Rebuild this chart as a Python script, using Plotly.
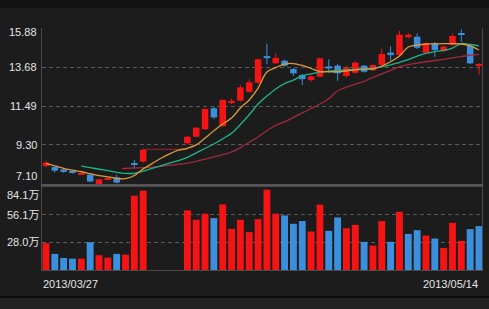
import plotly.graph_objects as go

# ---------------- data ----------------
slots = list(range(50))
opens = [8.12, 8.05, 7.92, 7.78, 7.66, 7.62, 7.10, 7.35, 7.46, 7.95, 8.22, 8.36,
         None, None, None, None,
         9.39, 9.76, 10.18, 11.36, 10.36, 11.68, 11.79, 12.29, 12.80, 14.30, 13.90, 14.04,
         13.57, 13.23, 12.95, 13.14, 13.72, 13.76, 13.18, 13.36, 13.76, 13.50, 13.80, 14.50,
         14.36, 15.36, 15.39, 14.49, 15.02, 14.58, 14.92, 15.58, 14.87, 13.75]
closes = [8.30, 7.85, 7.78, 7.75, 7.70, 7.24, 7.36, 7.42, 7.18, 8.00, 8.20, 9.02,
          None, None, None, None,
          9.76, 10.27, 11.32, 10.85, 11.83, 11.78, 12.54, 12.82, 14.12, 14.18, 14.20, 13.76,
          13.33, 13.00, 13.15, 14.17, 13.60, 13.33, 13.67, 13.93, 13.42, 13.80, 14.42, 14.35,
          15.50, 15.50, 14.77, 15.02, 14.64, 14.83, 15.43, 15.50, 13.89, 13.80]
highs = [8.42, 8.10, 7.98, 7.85, 7.74, 7.66, 7.40, 7.46, 7.62, 8.04, 8.45, 9.10,
         None, None, None, None,
         9.80, 10.30, 11.36, 11.45, 11.86, 11.90, 12.67, 12.99, 14.16, 15.00, 14.46, 14.10,
         13.62, 13.30, 13.20, 14.22, 14.12, 13.85, 13.75, 14.00, 13.80, 13.85, 14.72, 14.85,
         15.73, 15.60, 15.58, 15.08, 15.10, 14.88, 15.58, 15.80, 14.95, 13.90]
lows = [8.05, 7.74, 7.72, 7.68, 7.62, 7.20, 7.08, 7.32, 7.15, 7.93, 7.98, 8.30,
        None, None, None, None,
        9.35, 9.72, 10.14, 10.75, 10.32, 11.60, 11.75, 12.25, 12.76, 13.85, 13.85, 13.70,
        13.18, 12.67, 12.86, 13.10, 13.35, 12.90, 13.10, 13.30, 13.38, 13.45, 13.76, 14.05,
        14.30, 15.30, 14.70, 14.45, 14.26, 14.52, 14.88, 15.10, 13.85, 13.25]
suspended_price = [None] * 11 + [9.05, 9.05, 9.05, 9.05, 9.05, 9.05] + [None] * 33

ma5 = [8.26, 8.12, 7.98, 7.88, 7.79, 7.68, 7.57, 7.50, 7.42, 7.40, 7.58, 7.95,
       8.25, 8.55, 8.80, 9.00, 9.11, 9.30, 9.69, 10.10, 10.48, 10.81, 11.38, 11.83,
       12.50, 13.40, 13.65, 13.85, 13.88, 13.77, 13.60, 13.43, 13.42, 13.42, 13.46,
       13.52, 13.57, 13.57, 13.74, 13.98, 14.30, 14.81, 14.92, 14.98, 14.98, 15.00,
       15.00, 14.98, 14.87, 14.64]
ma10 = [None] * 4 + [8.11, 8.02, 7.93, 7.85, 7.76, 7.70, 7.70, 7.82, 7.98, 8.12, 8.28,
       8.42, 8.60, 8.85, 9.10, 9.35, 9.65, 9.95, 10.45, 11.00, 11.60, 12.05, 12.45,
       12.75, 12.95, 13.20, 13.30, 13.40, 13.45, 13.50, 13.52, 13.55, 13.58, 13.62,
       13.70, 13.80, 13.95, 14.10, 14.30, 14.45, 14.55, 14.62, 14.75, 15.00, 14.95, 14.88]
ma20 = [None] * 9 + [7.98, 8.00, 8.02, 8.05, 8.10, 8.15, 8.20, 8.28, 8.38, 8.50, 8.62,
       8.75, 8.90, 9.15, 9.45, 9.75, 10.10, 10.40, 10.60, 10.85, 11.10, 11.35, 11.60,
       11.90, 12.35, 12.55, 12.72, 12.88, 13.10, 13.30, 13.50, 13.70, 13.82, 13.90,
       13.98, 14.05, 14.12, 14.20, 14.27, 14.35, 14.40]

volume = [27.2, 16.3, 12.2, 11.5, 11.5, 28.2, 15.0, 12.5, 16.3, 15.6, 75.3, 80.4,
          None, None, None, None,
          60.4, 50.9, 57.0, 52.6, 66.5, 41.7, 50.9, 38.4, 51.6, 81.4, 57.0, 55.3,
          46.8, 49.6, 39.0, 66.2, 39.7, 53.3, 42.4, 45.8, 28.5, 24.7, 49.6, 28.5,
          59.0, 36.6, 40.4, 34.9, 31.9, 22.4, 47.8, 29.5, 41.4, 44.5]
vol_dir = ["u", "d", "d", "d", "u", "d", "u", "u", "d", "u", "u", "u",
           "", "", "", "",
           "u", "u", "u", "d", "u", "u", "u", "u", "u", "u", "u", "d",
           "d", "d", "u", "u", "d", "d", "u", "u", "d", "u", "u", "d",
           "u", "d", "d", "u", "d", "u", "u", "u", "d", "d"]

price_ticks = [15.88, 13.68, 11.49, 9.30, 7.10]
price_tick_text = ["15.88", "13.68", "11.49", "9.30", "7.10"]
vol_ticks = [84.1, 56.1, 28.0]
vol_tick_text = ["84.1万", "56.1万", "28.0万"]
date_labels = ["2013/03/27", "2013/05/14"]

# ---------------- style ----------------
RED = "#f41414"
BLUE = "#3c8fdc"
BG = "#1c1c1c"
GRID = "#5a5a5a"
FRAME = "#4a4a4a"
TXT = "#e4e4e4"
FONT = "Liberation Sans, Arial, Noto Sans CJK SC, sans-serif"

fig = go.Figure()

# wicks
for direction, col in (("u", RED), ("d", BLUE)):
    wx, wy = [], []
    bx, bh, bb = [], [], []
    for i in slots:
        if opens[i] is None:
            continue
        d = "u" if closes[i] >= opens[i] else "d"
        if d != direction:
            continue
        wx += [i, i, None]
        wy += [lows[i], highs[i], None]
        bx.append(i)
        bb.append(min(opens[i], closes[i]))
        bh.append(max(abs(closes[i] - opens[i]), 0.05))
    fig.add_trace(go.Scatter(x=wx, y=wy, mode="lines", line=dict(color=col, width=1),
                             xaxis="x", yaxis="y", hoverinfo="skip", showlegend=False))
    fig.add_trace(go.Bar(x=bx, y=bh, base=bb, width=0.74, marker=dict(color=col, line=dict(width=0)),
                         xaxis="x", yaxis="y", showlegend=False))

# suspension line
fig.add_trace(go.Scatter(x=slots, y=suspended_price, mode="lines", line=dict(color="#a3222e", width=1),
                         xaxis="x", yaxis="y", showlegend=False))
# MAs
fig.add_trace(go.Scatter(x=slots, y=ma20, mode="lines", line=dict(color="#a2283e", width=1.3, shape="spline"),
                         xaxis="x", yaxis="y", showlegend=False))
fig.add_trace(go.Scatter(x=slots, y=ma10, mode="lines", line=dict(color="#1db58c", width=1.3, shape="spline"),
                         xaxis="x", yaxis="y", showlegend=False))
fig.add_trace(go.Scatter(x=slots, y=ma5, mode="lines", line=dict(color="#dc9a3c", width=1.3, shape="spline"),
                         xaxis="x", yaxis="y", showlegend=False))

# volume
vcols = [RED if d == "u" else BLUE for d in vol_dir]
fig.add_trace(go.Bar(x=slots, y=volume, width=0.78, marker=dict(color=vcols, line=dict(width=0)),
                     xaxis="x2", yaxis="y2", showlegend=False))

W, H = 489, 309
xdom = [42 / W, 482 / W]
fig.update_layout(
    width=W, height=H, margin=dict(l=0, r=0, t=0, b=0),
    paper_bgcolor=BG, plot_bgcolor=BG, barmode="overlay", showlegend=False,
    xaxis=dict(domain=xdom, range=[-0.45, 49.34], showgrid=False, zeroline=False,
               showticklabels=False, ticks="", showline=True, linecolor="#555555", linewidth=2),
    yaxis=dict(domain=[(H - 184) / H, (H - 28) / H], range=[7.10, 15.88], tickvals=price_ticks,
               showticklabels=False, ticks="", showgrid=True, gridcolor=GRID, griddash="4px,3px",
               gridwidth=1, zeroline=False, showline=True, mirror=True, linecolor=FRAME, linewidth=1),
    xaxis2=dict(domain=xdom, range=[-0.45, 49.34], anchor="y2", showgrid=False, zeroline=False,
                showticklabels=False, ticks="", showline=True, mirror=True, linecolor=FRAME, linewidth=1),
    yaxis2=dict(domain=[(H - 270) / H, (H - 187) / H], range=[0, 84.1], anchor="x2", tickvals=vol_ticks[1:],
                showticklabels=False, ticks="", showgrid=True, gridcolor=GRID, griddash="4px,3px",
                zeroline=False, showline=True, mirror=True, linecolor=FRAME, linewidth=1),
)

# background bands
fig.add_shape(type="rect", xref="paper", yref="paper", x0=0, x1=1, y0=1 - 8 / H, y1=1,
              fillcolor="#121212", line=dict(width=0), layer="below")
fig.add_shape(type="rect", xref="paper", yref="paper", x0=0, x1=1, y0=0, y1=12 / H,
              fillcolor="#222222", line=dict(width=0), layer="below")
fig.add_shape(type="line", xref="paper", yref="paper", x0=0, x1=1, y0=12 / H, y1=12 / H,
              line=dict(color="#0e0e0e", width=2))

# axis labels
pshift = {0: -4, 4: 8}
for k, (v, t) in enumerate(zip(price_ticks, price_tick_text)):
    fig.add_annotation(x=xdom[0], xref="paper", y=v, yref="y", text=t, showarrow=False,
                       xanchor="right", yanchor="middle", xshift=-3, yshift=pshift.get(k, 0),
                       font=dict(family=FONT, size=11, color=TXT))
vshift = {0: -8}
for k, (v, t) in enumerate(zip(vol_ticks, vol_tick_text)):
    fig.add_annotation(x=xdom[0], xref="paper", y=v, yref="y2", text=t, showarrow=False,
                       xanchor="right", yanchor="middle", xshift=-1, yshift=vshift.get(k, 0),
                       font=dict(family=FONT, size=11, color=TXT))

fig.add_annotation(x=slots[0], xref="x2", y=0, yref="y2", text=date_labels[0], showarrow=False,
                   xanchor="left", yanchor="top", xshift=-5, yshift=-6,
                   font=dict(family=FONT, size=11, color=TXT))
fig.add_annotation(x=slots[-1], xref="x2", y=0, yref="y2", text=date_labels[1], showarrow=False,
                   xanchor="right", yanchor="top", xshift=1, yshift=-6,
                   font=dict(family=FONT, size=11, color=TXT))

fig.write_html("out.html")
